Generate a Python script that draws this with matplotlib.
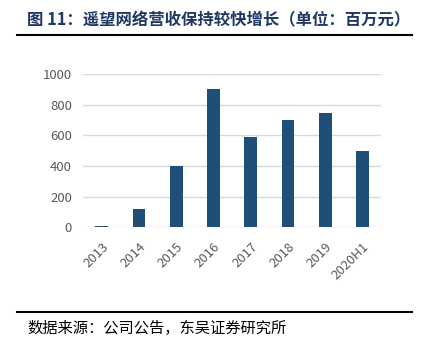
import matplotlib

matplotlib.use("Agg")
import matplotlib.pyplot as plt
from matplotlib.lines import Line2D

plt.rcParams["font.family"] = ["Noto Sans CJK SC", "DejaVu Sans"]

# Revenue by period (million CNY)
periods = ["2013", "2014", "2015", "2016", "2017", "2018", "2019", "2020H1"]
revenue = [8, 117, 398, 900, 587, 702, 748, 500]
yticks = [0, 200, 400, 600, 800, 1000]

TITLE = "图 11：遥望网络营收保持较快增长（单位：百万元）"
SOURCE = "数据来源：公司公告，东吴证券研究所"

BAR = "#1F4E79"
GRID = "#D9D9D9"
TICK = "#595959"

fig = plt.figure(figsize=(4.24, 3.46), dpi=100)
ax = fig.add_axes([0.196, 0.343, 0.703, 0.443])

x = range(len(periods))
ax.bar(x, revenue, width=0.34, color=BAR, zorder=3)

ax.set_xlim(-0.5, len(periods) - 0.5)
ax.set_ylim(0, 1000)
ax.set_yticks(yticks)
ax.set_yticklabels([str(v) for v in yticks], fontsize=9.5, color=TICK)
ax.set_xticks(list(x))
ax.set_xticklabels(periods, rotation=45, ha="right", va="top",
                   rotation_mode="anchor", fontsize=9.5, color=TICK)
for lbl in ax.get_xticklabels():
    lbl.set_x(lbl.get_position()[0])
ax.tick_params(axis="y", length=0, pad=8)
ax.tick_params(axis="x", length=0, pad=9)
ax.yaxis.grid(True, color=GRID, linewidth=1.0, zorder=0)
for s in ax.spines.values():
    s.set_visible(False)

# Title and source with rule lines
fig.text(0.064, 0.942, TITLE, fontsize=11.8, fontweight="bold", color="#1F3864",
         va="center", ha="left")
fig.add_artist(Line2D([0.04, 0.972], [0.898, 0.898], color="black", linewidth=1.5))
fig.add_artist(Line2D([0.04, 0.972], [0.099, 0.099], color="black", linewidth=1.5))
fig.text(0.064, 0.052, SOURCE, fontsize=11, color="black", va="center", ha="left")

fig.savefig("out.png", dpi=100)
